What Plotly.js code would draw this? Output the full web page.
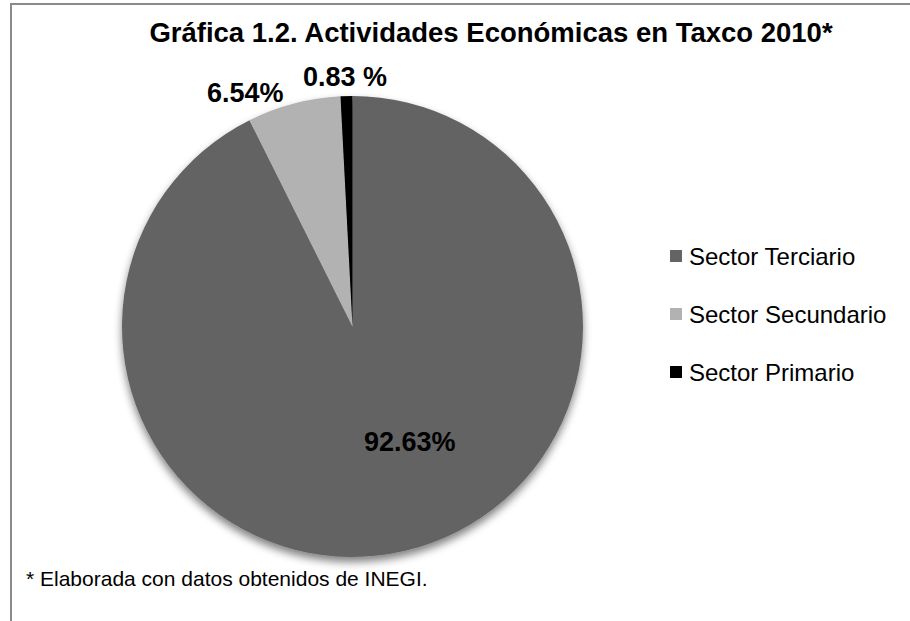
<!DOCTYPE html>
<html>
<head>
<meta charset="utf-8">
<script src="https://cdn.plot.ly/plotly-3.0.1.min.js"></script>
<style>
  html, body { margin: 0; padding: 0; background: #fff; }
  #chart { width: 910px; height: 621px; }
</style>
</head>
<body>
<svg width="0" height="0" style="position:absolute">
  <defs>
    <filter id="pieShadow" x="-15%" y="-15%" width="130%" height="135%">
      <feGaussianBlur in="SourceAlpha" stdDeviation="4"/>
      <feOffset dx="0" dy="5" result="off"/>
      <feComponentTransfer><feFuncA type="linear" slope="0.5"/></feComponentTransfer>
      <feMerge><feMergeNode/><feMergeNode in="SourceGraphic"/></feMerge>
    </filter>
  </defs>
</svg>
<div id="chart"></div>
<script>
// Data
const sectors = ["Sector Terciario", "Sector Secundario", "Sector Primario"];
const shares = [92.63, 6.54, 0.83];
const shareLabels = ["92.63%", "6.54%", "0.83 %"];
const sectorColors = ["#646464", "#b2b2b2", "#000000"];

const W = 910, H = 621;
const px = x => x / W;
const py = y => 1 - y / H;

const FONT = "'Liberation Sans', Arial, sans-serif";

const trace = {
  type: "pie",
  labels: sectors,
  values: shares,
  sort: false,
  direction: "clockwise",
  rotation: 0,
  textinfo: "none",
  hoverinfo: "label+percent",
  marker: { colors: sectorColors, line: { width: 0 } },
  domain: { x: [px(121), px(584)], y: [py(557), py(96)] },
  showlegend: false
};

// data-label positions (paper px)
const labelPos = [[410, 442], [245, 93], [345, 77]];
const annotations = shareLabels.map((t, i) => ({
  xref: "paper", yref: "paper",
  x: px(labelPos[i][0]), y: py(labelPos[i][1]),
  text: "<b>" + t + "</b>",
  showarrow: false,
  xanchor: "center", yanchor: "middle",
  font: { family: FONT, size: 27, color: "#000" }
}));

// manual legend (spaced like the reference)
const legX = 670, legTextX = 687, legY0 = 256, legGap = 58, sq = 12;
const shapes = [{
  type: "rect", xref: "paper", yref: "paper",
  x0: px(11), x1: 1.02, y0: -0.02, y1: py(4),
  line: { color: "#8a8a8a", width: 2 }, fillcolor: "rgba(0,0,0,0)"
}];
sectors.forEach((s, i) => {
  const cy = legY0 + i * legGap;
  shapes.push({
    type: "rect", xref: "paper", yref: "paper",
    x0: px(legX), x1: px(legX + sq), y0: py(cy + sq / 2), y1: py(cy - sq / 2),
    line: { width: 0 }, fillcolor: sectorColors[i]
  });
  annotations.push({
    xref: "paper", yref: "paper",
    x: px(legTextX), y: py(cy),
    text: s, showarrow: false,
    xanchor: "left", yanchor: "middle",
    font: { family: FONT, size: 24, color: "#000" }
  });
});

annotations.push({
  xref: "paper", yref: "paper",
  x: px(24), y: py(578),
  text: "* Elaborada con datos obtenidos de INEGI.",
  showarrow: false, xanchor: "left", yanchor: "middle",
  font: { family: FONT, size: 21, color: "#000" }
});

const layout = {
  width: W, height: H,
  margin: { l: 0, r: 0, t: 0, b: 0 },
  paper_bgcolor: "#fff",
  showlegend: false,
  title: {
    text: "<b>Gráfica 1.2. Actividades Económicas en Taxco 2010*</b>",
    x: px(491), xanchor: "center",
    y: py(32), yanchor: "middle",
    font: { family: FONT, size: 27.5, color: "#000" }
  },
  annotations: annotations,
  shapes: shapes
};

function addShadow(gd) {
  gd.querySelectorAll("g.pielayer g.trace").forEach(g => {
    g.setAttribute("filter", "url(#pieShadow)");
  });
}

Plotly.newPlot("chart", [trace], layout, { displayModeBar: false, staticPlot: true }).then(gd => {
  addShadow(gd);
  gd.on && gd.on("plotly_afterplot", () => addShadow(gd));
});
</script>
</body>
</html>
